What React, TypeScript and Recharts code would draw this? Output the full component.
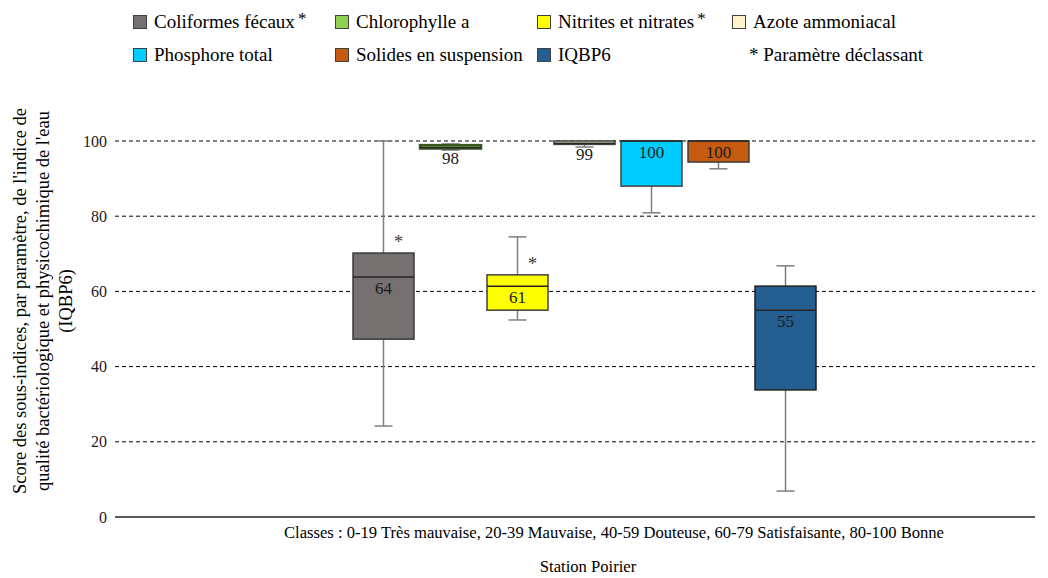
import { ComposedChart, Bar, XAxis, YAxis, CartesianGrid } from 'recharts';

// Sous-indices IQBP6 - Station Poirier
const series = [
  'Coliformes fécaux',
  'Chlorophylle a',
  'Nitrites et nitrates',
  'Azote ammoniacal',
  'Phosphore total',
  'Solides en suspension',
  'IQBP6',
];
const colors = ['#767171', '#92D050', '#FFFF00', '#FFF2CC', '#00CCFF', '#C55A11', '#255E91'];
const strokes = ['#3b3838', '#375623', '#404040', '#404040', '#404040', '#404040', '#1f1f1f'];
const mins = [24.2, 97.6, 52.4, 98.4, 80.9, 92.6, 6.9];
const q1s = [47.3, 98.0, 55.0, 99.1, 88.0, 94.4, 33.8];
const medians = [63.8, 98.3, 61.4, 99.4, 100, 100, 55.0];
const q3s = [70.2, 98.9, 64.4, 100, 100, 100, 61.4];
const maxs = [100, 99.2, 74.5, 100, 100, 100, 66.8];
const declassant = [true, false, true, false, false, false, false];
const yTicks = [0, 20, 40, 60, 80, 100];

const data = series.map((name, i) => ({
  name,
  range: [mins[i], maxs[i]],
  min: mins[i],
  q1: q1s[i],
  median: medians[i],
  q3: q3s[i],
  max: maxs[i],
  color: colors[i],
  stroke: strokes[i],
  flag: declassant[i],
}));

const FONT = 'Liberation Serif';

const BoxShape = (props: any) => {
  const { x, y, width, height, payload } = props;
  const { min, max, q1, median, q3, color, stroke, flag } = payload;
  // linear scale recovered from the whisker range bar
  const py = (v: number) => y + ((max - v) / (max - min)) * height;
  const cx = x + width / 2;
  const cap = 18;
  return (
    <g>
      <line x1={cx} x2={cx} y1={py(max)} y2={py(q3)} stroke="#7f7f7f" strokeWidth={1.5} />
      <line x1={cx} x2={cx} y1={py(q1)} y2={py(min)} stroke="#7f7f7f" strokeWidth={1.5} />
      <line x1={cx - cap / 2} x2={cx + cap / 2} y1={py(min)} y2={py(min)} stroke="#7f7f7f" strokeWidth={1.5} />
      {max > q3 && (
        <line x1={cx - cap / 2} x2={cx + cap / 2} y1={py(max)} y2={py(max)} stroke="#7f7f7f" strokeWidth={1.5} />
      )}
      <rect
        x={x}
        y={py(q3)}
        width={width}
        height={Math.max(py(q1) - py(q3), 1)}
        fill={color}
        stroke={stroke}
        strokeWidth={stroke === '#375623' ? 2.5 : 1.5}
      />
      <line x1={x} x2={x + width} y1={py(median)} y2={py(median)} stroke="#262626" strokeWidth={1.5} />
      <text
        x={cx}
        y={py(median) + 17}
        textAnchor="middle"
        fontFamily={FONT}
        fontSize={17}
        fill="#1a1a1a"
      >
        {Math.round(median)}
      </text>
      {flag && (
        <text x={cx + 15} y={py(q3) - 5} textAnchor="middle" fontFamily={FONT} fontSize={19} fill="#404040">
          *
        </text>
      )}
    </g>
  );
};

const legendCols = [133, 335, 537, 732];
const legendRows = [22, 55];

function ChartLegend() {
  return (
    <>
      {series.map((name, i) => {
        const left = legendCols[i % 4];
        const top = legendRows[Math.floor(i / 4)];
        return (
          <div
            key={name}
            style={{
              position: 'absolute',
              left,
              top: top - 12,
              height: 24,
              display: 'flex',
              alignItems: 'center',
              fontFamily: FONT,
              fontSize: 19,
              whiteSpace: 'nowrap',
            }}
          >
            <span
              style={{
                display: 'inline-block',
                width: 12,
                height: 12,
                background: colors[i],
                border: '1px solid #404040',
                marginRight: 7,
              }}
            />
            {name}
            {declassant[i] && <sup style={{ fontSize: 17, marginLeft: 3, position: 'relative', top: -3 }}>*</sup>}
          </div>
        );
      })}
      <div
        style={{
          position: 'absolute',
          left: 749,
          top: legendRows[1] - 12,
          height: 24,
          display: 'flex',
          alignItems: 'center',
          fontFamily: FONT,
          fontSize: 19,
          whiteSpace: 'nowrap',
        }}
      >
        * Paramètre déclassant
      </div>
    </>
  );
}

const YLabel = () => (
  <g fontFamily={FONT} fontSize={18.5} fill="#000">
    <text transform="translate(20, 301) rotate(-90)" textAnchor="middle" dominantBaseline="central">
      Score des sous-indices, par paramètre, de l'indice de
    </text>
    <text transform="translate(43, 301) rotate(-90)" textAnchor="middle" dominantBaseline="central">
      qualité bactériologique et physicochimique de l'eau
    </text>
    <text transform="translate(66, 301) rotate(-90)" textAnchor="middle" dominantBaseline="central">
      (IQBP6)
    </text>
  </g>
);

export default function App() {
  return (
    <div style={{ position: 'absolute', left: 0, top: 0, width: 1048, height: 578, background: '#fff' }}>
      <ChartLegend />
      <ComposedChart
        width={1048}
        height={578}
        data={data}
        margin={{ top: 141, right: 13, bottom: 31, left: 55 }}
        barSize={61}
      >
        <CartesianGrid vertical={false} stroke="#000" strokeDasharray="4 3" />
        <XAxis
          dataKey="name"
          type="category"
          tick={false}
          tickLine={false}
          axisLine={{ stroke: '#595959', strokeWidth: 2, strokeDasharray: '' }}
          padding={{ left: 235, right: 216 }}
        />
        <YAxis
          type="number"
          domain={[0, 100]}
          ticks={yTicks}
          width={60}
          axisLine={false}
          tickLine={false}
          tick={{ fill: '#1a1a1a', fontSize: 16, fontFamily: FONT }}
          label={{ content: () => <YLabel /> }}
        />
        <Bar dataKey="range" shape={<BoxShape />} isAnimationActive={false} />
      </ComposedChart>
      <div
        style={{
          position: 'absolute',
          left: 0,
          width: 1228,
          top: 523,
          textAlign: 'center',
          fontFamily: FONT,
          fontSize: 16.6,
        }}
      >
        Classes : 0-19 Très mauvaise, 20-39 Mauvaise, 40-59 Douteuse, 60-79 Satisfaisante, 80-100 Bonne
      </div>
      <div
        style={{
          position: 'absolute',
          left: 0,
          width: 1176,
          top: 557,
          textAlign: 'center',
          fontFamily: FONT,
          fontSize: 16.6,
        }}
      >
        Station Poirier
      </div>
    </div>
  );
}
